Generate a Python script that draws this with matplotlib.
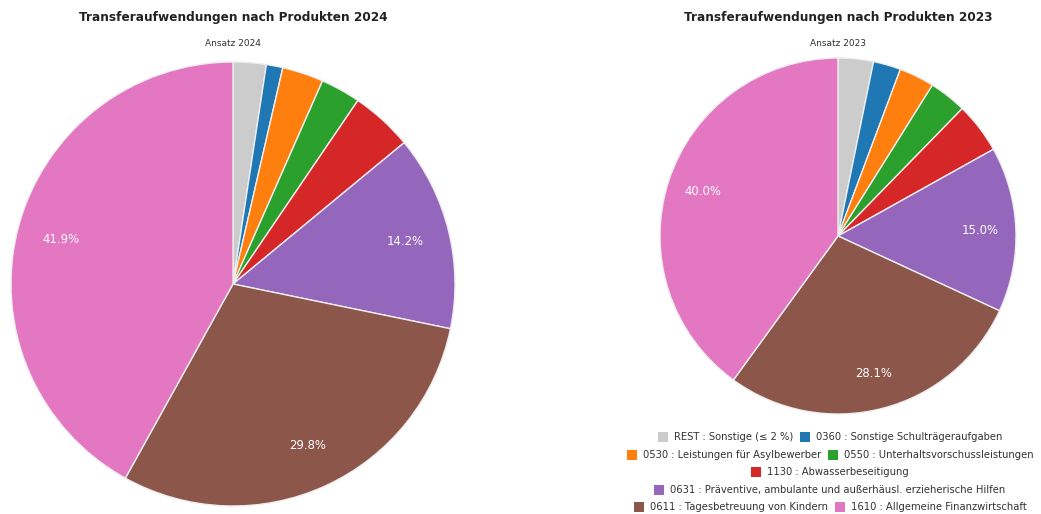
import matplotlib
matplotlib.use("Agg")
import matplotlib.pyplot as plt
from matplotlib.patches import Rectangle

# Produkte (Reihenfolge im Uhrzeigersinn ab 12 Uhr)
products = ["REST : Sonstige (≤ 2 %)",
            "0360 : Sonstige Schulträgeraufgaben",
            "0530 : Leistungen für Asylbewerber",
            "0550 : Unterhaltsvorschussleistungen",
            "1130 : Abwasserbeseitigung",
            "0631 : Präventive, ambulante und außerhäusl. erzieherische Hilfen",
            "0611 : Tagesbetreuung von Kindern",
            "1610 : Allgemeine Finanzwirtschaft"]
share_2024 = [2.4, 1.2, 3.0, 2.9, 4.5, 14.2, 29.8, 41.9]
share_2023 = [3.2, 2.5, 3.2, 3.4, 4.6, 15.0, 28.1, 40.0]
colors = ["#cccccc", "#1f77b4", "#ff7f0e", "#2ca02c", "#d62728",
          "#9467bd", "#8c564b", "#e377c2"]
legend_rows = [[0, 1], [2, 3], [4], [5], [6, 7]]

W, H = 1041, 514
fig = plt.figure(figsize=(W / 100, H / 100), dpi=100)


def pie_axes(cx, cy, r):
    # cx, cy in pixels from top-left
    return fig.add_axes([(cx - r) / W, (H - cy - r) / H, 2 * r / W, 2 * r / H])


def draw_pie(ax, values):
    ax.pie(values, colors=colors, startangle=90, counterclock=False,
           autopct=lambda p: f"{p:.1f}%" if p > 10 else "",
           pctdistance=0.8,
           wedgeprops=dict(edgecolor="#eeeeee", linewidth=1),
           textprops=dict(color="white", fontsize=8.4))
    ax.set_xlim(-1, 1)
    ax.set_ylim(-1, 1)


ax1 = pie_axes(233, 284, 222)
draw_pie(ax1, share_2024)
ax2 = pie_axes(838, 236, 178)
draw_pie(ax2, share_2023)

fig.text(233 / W, 1 - 18 / H, "Transferaufwendungen nach Produkten 2024",
         ha="center", va="center", fontsize=8.7, fontweight="bold", color="#222222")
fig.text(233 / W, 1 - 44 / H, "Ansatz 2024", ha="center", va="center",
         fontsize=6.5, color="#333333")
fig.text(838 / W, 1 - 18 / H, "Transferaufwendungen nach Produkten 2023",
         ha="center", va="center", fontsize=8.7, fontweight="bold", color="#222222")
fig.text(838 / W, 1 - 43 / H, "Ansatz 2023", ha="center", va="center",
         fontsize=6.5, color="#333333")

# Legende: zentrierte Zeilen unter dem rechten Kreis
renderer = fig.canvas.get_renderer()
box, gap_box, gap_item = 10, 6, 7
row_y = [437, 455, 472, 490, 507]
for row, y in zip(legend_rows, row_y):
    texts = []
    widths = []
    for i in row:
        t = fig.text(0, 1 - y / H, products[i], ha="left", va="center",
                     fontsize=7.2, color="#333333")
        texts.append(t)
        widths.append(t.get_window_extent(renderer).width)
    total = sum(box + gap_box + w for w in widths) + gap_item * (len(row) - 1)
    x = 830 - total / 2
    for i, t, w in zip(row, texts, widths):
        fig.patches.append(Rectangle(((x) / W, (H - y - box / 2) / H), box / W, box / H,
                                     transform=fig.transFigure, facecolor=colors[i],
                                     edgecolor="none"))
        t.set_x((x + box + gap_box) / W)
        x += box + gap_box + w + gap_item

fig.savefig("out.png", dpi=100)
